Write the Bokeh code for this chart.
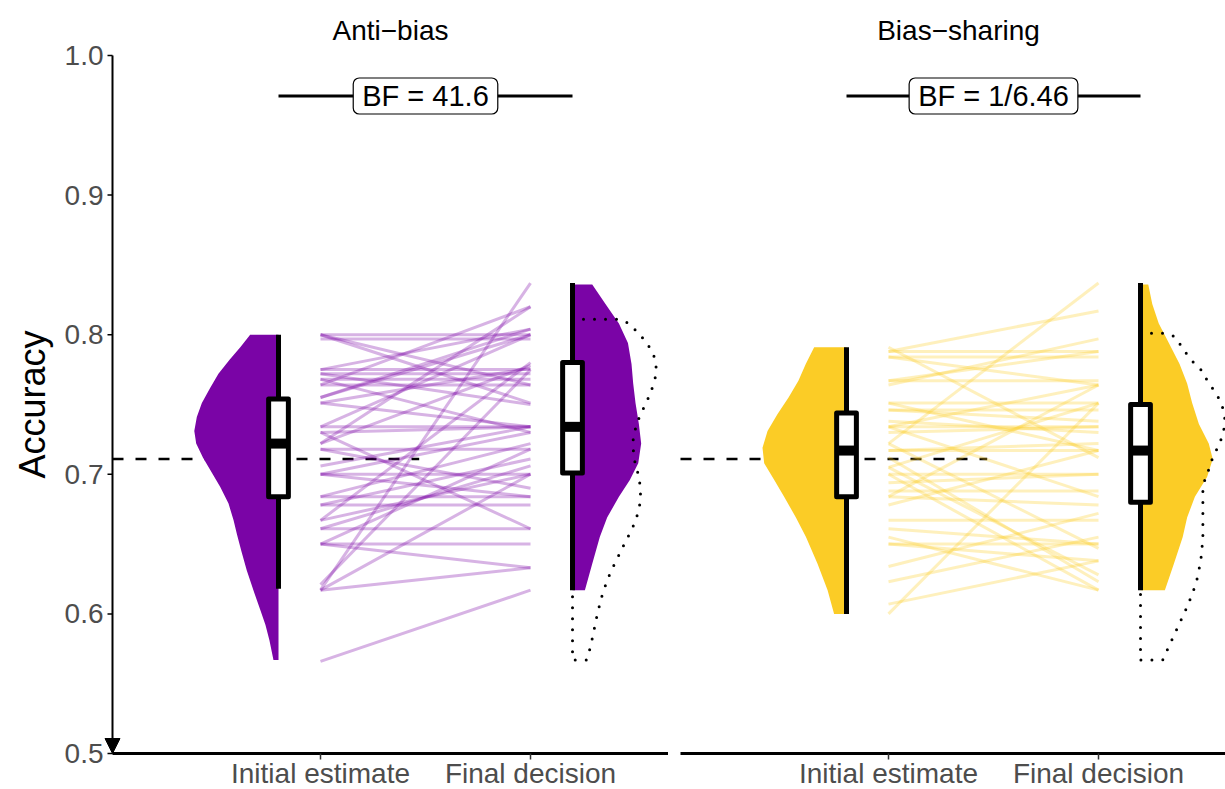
import math

from bokeh.plotting import figure
from bokeh.models import Range1d, Label, Arrow, NormalHead
from bokeh.core.properties import value
from bokeh.layouts import row
from bokeh.embed import file_html
from bokeh.resources import INLINE

FONT = "Liberation Sans"
PURPLE = "#7A04A6"
YELLOW = "#FBCC26"
TICK_GREY = "#4D4D4D"

# ---- data -----------------------------------------------------------------
conditions = ["Anti\u2212bias", "Bias\u2212sharing"]
stages = ["Initial estimate", "Final decision"]
bf_labels = ["BF = 41.6", "BF = 1/6.46"]
chance_level = 0.711
y_ticks = [0.5, 0.6, 0.7, 0.8, 0.9, 1.0]
y_tick_labels = ["0.5", "0.6", "0.7", "0.8", "0.9", "1.0"]

# paired accuracies, one entry per participant
anti_initial = [0.800, 0.797, 0.775, 0.772, 0.768, 0.764, 0.734, 0.718, 0.700, 0.684, 0.678, 0.661, 0.650,
                0.800, 0.775, 0.764, 0.755, 0.755, 0.751, 0.751, 0.734, 0.730, 0.730, 0.722, 0.722, 0.718,
                0.706, 0.700, 0.700, 0.684, 0.678, 0.667, 0.667, 0.661, 0.650, 0.650, 0.621, 0.617, 0.617,
                0.617, 0.566, 0.800, 0.772, 0.768]
anti_final = [0.800, 0.797, 0.775, 0.772, 0.768, 0.764, 0.734, 0.718, 0.700, 0.684, 0.678, 0.661, 0.650,
              0.751, 0.804, 0.820, 0.804, 0.800, 0.776, 0.734, 0.800, 0.661, 0.734, 0.820, 0.778, 0.690,
              0.734, 0.730, 0.684, 0.722, 0.711, 0.780, 0.700, 0.706, 0.633, 0.718, 0.775, 0.837, 0.700,
              0.633, 0.617, 0.764, 0.750, 0.730]
bias_initial = [0.788, 0.784, 0.767, 0.746, 0.734, 0.717, 0.700, 0.688, 0.667, 0.650, 0.751,
                0.791, 0.788, 0.784, 0.764, 0.767, 0.751, 0.746, 0.738, 0.734, 0.734, 0.730, 0.722, 0.722,
                0.717, 0.712, 0.705, 0.700, 0.694, 0.684, 0.684, 0.678, 0.661, 0.655, 0.650, 0.634, 0.623,
                0.607, 0.600, 0.705]
bias_final = [0.788, 0.784, 0.767, 0.746, 0.734, 0.717, 0.700, 0.688, 0.667, 0.650, 0.751,
              0.712, 0.817, 0.764, 0.797, 0.788, 0.717, 0.738, 0.730, 0.684, 0.764, 0.734, 0.837, 0.647,
              0.722, 0.623, 0.751, 0.617, 0.700, 0.764, 0.678, 0.717, 0.650, 0.617, 0.638, 0.672, 0.655,
              0.638, 0.751, 0.628]

# box statistics: lower whisker, Q1, median, Q3, upper whisker
anti_init_stats = [0.618, 0.684, 0.722, 0.754, 0.800]
anti_final_stats = [0.617, 0.701, 0.734, 0.780, 0.837]
bias_init_stats = [0.600, 0.684, 0.717, 0.744, 0.791]
bias_final_stats = [0.617, 0.680, 0.717, 0.750, 0.837]

# half-violin density profiles: accuracy level and half-width
anti_init_levels = [0.800, 0.791, 0.782, 0.772, 0.762, 0.751, 0.741, 0.731, 0.722, 0.712, 0.703, 0.691,
                    0.679, 0.667, 0.657, 0.645, 0.631, 0.615, 0.603, 0.592, 0.581, 0.567]
anti_init_widths = [0.135, 0.182, 0.233, 0.286, 0.325, 0.365, 0.389, 0.401, 0.392, 0.360, 0.325, 0.278,
                    0.238, 0.214, 0.198, 0.177, 0.151, 0.115, 0.087, 0.062, 0.043, 0.024]
anti_final_levels = [0.836, 0.822, 0.808, 0.794, 0.779, 0.765, 0.751, 0.736, 0.722, 0.708, 0.696, 0.684,
                     0.669, 0.655, 0.636, 0.617]
anti_final_widths = [0.094, 0.157, 0.221, 0.264, 0.281, 0.289, 0.300, 0.316, 0.327, 0.313, 0.273, 0.221,
                     0.165, 0.130, 0.094, 0.059]
bias_init_levels = [0.791, 0.779, 0.767, 0.755, 0.743, 0.731, 0.719, 0.708, 0.696, 0.684, 0.669, 0.655,
                    0.636, 0.617, 0.600]
bias_init_widths = [0.154, 0.194, 0.229, 0.276, 0.329, 0.376, 0.400, 0.392, 0.344, 0.297, 0.241, 0.193,
                    0.138, 0.090, 0.059]
bias_final_levels = [0.836, 0.822, 0.808, 0.794, 0.779, 0.765, 0.751, 0.736, 0.722, 0.711, 0.698, 0.684,
                     0.669, 0.655, 0.636, 0.617]
bias_final_widths = [0.037, 0.056, 0.087, 0.135, 0.186, 0.222, 0.246, 0.278, 0.325, 0.344, 0.317, 0.259,
                     0.222, 0.201, 0.159, 0.116]

# reference density outline drawn beside the final-decision violin
anti_ref_levels = [0.811, 0.811, 0.808, 0.802, 0.796, 0.789, 0.782, 0.773, 0.765, 0.757, 0.749, 0.742,
                   0.734, 0.726, 0.718, 0.709, 0.701, 0.693, 0.685, 0.677, 0.669, 0.661, 0.654, 0.646,
                   0.638, 0.631, 0.623, 0.615, 0.607, 0.599, 0.591, 0.583, 0.575, 0.567, 0.567]
anti_ref_widths = [0.0, 0.222, 0.270, 0.308, 0.344, 0.375, 0.395, 0.400, 0.387, 0.368, 0.344, 0.321,
                   0.302, 0.289, 0.289, 0.297, 0.311, 0.321, 0.324, 0.319, 0.305, 0.284, 0.260, 0.233,
                   0.208, 0.184, 0.163, 0.144, 0.130, 0.117, 0.106, 0.095, 0.083, 0.067, 0.0]
bias_ref_levels = [0.801, 0.801, 0.799, 0.792, 0.785, 0.779, 0.774, 0.765, 0.759, 0.751, 0.743, 0.735,
                   0.727, 0.720, 0.712, 0.703, 0.696, 0.688, 0.671, 0.654, 0.638, 0.622, 0.606, 0.591,
                   0.575, 0.567, 0.567]
bias_ref_widths = [0.0, 0.111, 0.159, 0.194, 0.225, 0.259, 0.294, 0.325, 0.357, 0.384, 0.401, 0.401,
                   0.389, 0.370, 0.344, 0.324, 0.306, 0.297, 0.297, 0.297, 0.287, 0.265, 0.225, 0.179,
                   0.130, 0.106, 0.0]

# ---- layout constants ------------------------------------------------------
PX_X = 210.0                    # pixels per x unit
PX_Y = 1396.0                   # pixels per accuracy unit
X_AXIS = 0.0095                 # left edge of each panel
PANEL_W = 556 / PX_X            # nominal panel width in x units
X_INIT, X_FINAL = 1, 2          # category positions of the paired lines
BOX_INIT, BOX_FINAL = 0.8, 2.2  # where the half violins and boxes sit
BOX_HALF = 0.047
BF_Y = 0.971
Y_MIN, Y_MAX = 0.5, 1.0
TOP_PX, BOTTOM_PX = 55, 36      # room above 1.0 and below 0.5
HEIGHT = 789


def make_figure(width, left_gap, title):
    x0 = X_AXIS - left_gap / PX_X
    x_end = x0 + width / PX_X
    p = figure(width=width, height=HEIGHT, x_range=Range1d(x0, x_end),
               y_range=Range1d(Y_MIN - BOTTOM_PX / PX_Y, Y_MAX + TOP_PX / PX_Y),
               output_backend="svg", toolbar_location=None,
               x_axis_location=None, y_axis_location=None,
               min_border_left=0, min_border_right=0, min_border_top=0, min_border_bottom=0)
    p.grid.visible = False
    p.outline_line_color = None
    p.background_fill_color = "white"
    p.border_fill_color = "white"
    # facet strip title
    p.text(x=[X_AXIS + PANEL_W / 2], y=[Y_MAX + 25 / PX_Y], text=[title], text_align="center",
           text_baseline="middle", text_font=value(FONT), text_font_size=value("28px"),
           text_color="black")
    # category axis along the bottom of the panel
    p.segment(x0=[X_AXIS], y0=[Y_MIN], x1=[x_end], y1=[Y_MIN], line_color="black", line_width=3)
    cats = [X_INIT, X_FINAL]
    p.segment(x0=cats, y0=[Y_MIN] * 2, x1=cats, y1=[Y_MIN - 6 / PX_Y] * 2,
              line_color="#333333", line_width=1.5)
    p.text(x=cats, y=[Y_MIN - (BOTTOM_PX - 1) / PX_Y] * 2, text=stages, text_align="center",
           text_baseline="bottom", text_font=value(FONT), text_font_size=value("28px"),
           text_color=TICK_GREY)
    return p, x0


def draw_panel(p, initial, final, init_stats, final_stats, init_lv, init_w, final_lv, final_w,
               ref_lv, ref_w, color, bf_text):
    # chance-level reference
    p.line([X_AXIS, 1.47], [chance_level, chance_level], line_color="black",
           line_width=2.4, line_dash="11 12")
    # paired participant lines
    p.segment(x0=[X_INIT] * len(initial), y0=initial, x1=[X_FINAL] * len(final), y1=final,
              line_color=color, line_alpha=0.3, line_width=3)
    # half violins
    p.patch([BOX_INIT] + [BOX_INIT - w for w in init_w] + [BOX_INIT],
            [init_lv[0]] + init_lv + [init_lv[-1]], fill_color=color, line_color=None)
    p.patch([BOX_FINAL] + [BOX_FINAL + w for w in final_w] + [BOX_FINAL],
            [final_lv[0]] + final_lv + [final_lv[-1]], fill_color=color, line_color=None)
    # dotted density outline
    p.line([BOX_FINAL + w for w in ref_w] + [BOX_FINAL],
           ref_lv + [ref_lv[0]], line_color="black", line_width=3,
           line_dash="0 11", line_cap="round")
    # box plots
    for xc, st in ((BOX_INIT, init_stats), (BOX_FINAL, final_stats)):
        p.segment(x0=[xc], y0=[st[0]], x1=[xc], y1=[st[4]], line_color="black", line_width=5)
        p.quad(left=[xc - BOX_HALF], right=[xc + BOX_HALF], bottom=[st[1]], top=[st[3]],
               fill_color="white", line_color="black", line_width=5, line_join="round")
        p.segment(x0=[xc - BOX_HALF], y0=[st[2]], x1=[xc + BOX_HALF], y1=[st[2]],
                  line_color="black", line_width=10)
    # Bayes factor bracket
    p.line([BOX_INIT, BOX_FINAL], [BF_Y, BF_Y], line_color="black", line_width=3)
    p.add_layout(Label(x=(BOX_INIT + BOX_FINAL) / 2, y=BF_Y, text=bf_text, text_align="center",
                       text_baseline="middle", text_font=FONT, text_font_size="29px",
                       text_color="black", background_fill_color="white",
                       border_line_color="black", border_line_width=1.2,
                       padding=(9, 2), border_radius=6))


# ---- left panel with the accuracy axis -----------------------------------
p1, x0_left = make_figure(668, 112, conditions[0])
p1.add_layout(Arrow(end=NormalHead(size=15, fill_color="black", line_color="black", line_width=1),
                    x_start=X_AXIS, y_start=Y_MAX, x_end=X_AXIS, y_end=Y_MIN,
                    line_color="black", line_width=2))
p1.segment(x0=[X_AXIS - 5 / PX_X] * len(y_ticks), y0=y_ticks, x1=[X_AXIS] * len(y_ticks), y1=y_ticks,
           line_color="black", line_width=1.5)
p1.text(x=[X_AXIS - 9 / PX_X] * len(y_ticks), y=y_ticks, text=y_tick_labels, text_align="right",
        text_baseline="middle", text_font=value(FONT), text_font_size=value("28px"),
        text_color=TICK_GREY)
p1.text(x=[x0_left + 32 / PX_X], y=[(Y_MIN + Y_MAX) / 2], text=["Accuracy"], angle=math.pi / 2,
        text_align="center", text_baseline="middle", text_font=value(FONT),
        text_font_size=value("36px"), text_color="black")
draw_panel(p1, anti_initial, anti_final, anti_init_stats, anti_final_stats,
           anti_init_levels, anti_init_widths, anti_final_levels, anti_final_widths,
           anti_ref_levels, anti_ref_widths, PURPLE, bf_labels[0])

# ---- right panel ---------------------------------------------------------
p2, _ = make_figure(557, 12, conditions[1])
draw_panel(p2, bias_initial, bias_final, bias_init_stats, bias_final_stats,
           bias_init_levels, bias_init_widths, bias_final_levels, bias_final_widths,
           bias_ref_levels, bias_ref_widths, YELLOW, bf_labels[1])

layout = row(p1, p2)
open("out.html", "w").write(file_html(layout, INLINE))
